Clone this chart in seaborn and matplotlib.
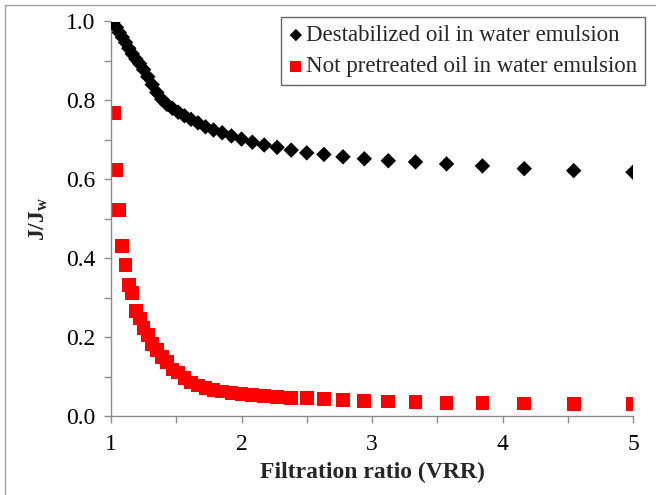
import matplotlib
matplotlib.use("Agg")
import matplotlib.pyplot as plt
import seaborn as sns
import pandas as pd
from matplotlib.ticker import MultipleLocator, FormatStrFormatter
from matplotlib.patches import Rectangle

vrr = [1.0204, 1.0417, 1.0638, 1.0870, 1.1111, 1.1364, 1.1628, 1.1905, 1.2195, 1.2500,
       1.2821, 1.3158, 1.3514, 1.3889, 1.4286, 1.4706, 1.5152, 1.5625, 1.6129, 1.6667,
       1.7241, 1.7857, 1.8519, 1.9231, 2.0000, 2.0833, 2.1739, 2.2727, 2.3810, 2.5000,
       2.6316, 2.7778, 2.9412, 3.1250, 3.3333, 3.5714, 3.8462, 4.1667, 4.5455, 5.0000]

destabilized = [1.000, 0.985, 0.972, 0.960, 0.947, 0.932, 0.918, 0.905, 0.893, 0.878,
                0.860, 0.840, 0.820, 0.803, 0.790, 0.780, 0.770, 0.761, 0.752, 0.743,
                0.733, 0.725, 0.718, 0.710, 0.702, 0.694, 0.687, 0.681, 0.674, 0.667,
                0.663, 0.657, 0.652, 0.647, 0.644, 0.639, 0.634, 0.627, 0.622, 0.618]

not_pretreated = [0.769, 0.624, 0.523, 0.431, 0.383, 0.333, 0.311, 0.267, 0.247, 0.224,
                  0.205, 0.183, 0.168, 0.150, 0.137, 0.118, 0.110, 0.097, 0.085, 0.077,
                  0.071, 0.066, 0.062, 0.059, 0.056, 0.054, 0.051, 0.049, 0.046, 0.045,
                  0.043, 0.040, 0.038, 0.037, 0.036, 0.033, 0.033, 0.032, 0.030, 0.030]

label_a = "Destabilized oil in water emulsion"
label_b = "Not pretreated oil in water emulsion"

sns.set_style("white")
plt.rcParams["font.family"] = ["Liberation Serif", "DejaVu Serif"]
plt.rcParams["mathtext.fontset"] = "custom"
plt.rcParams["mathtext.rm"] = "Liberation Serif"
plt.rcParams["mathtext.bf"] = "Liberation Serif:bold"
plt.rcParams["mathtext.it"] = "Liberation Serif:italic"

df = pd.DataFrame({"vrr": vrr, "a": destabilized, "b": not_pretreated})

fig = plt.figure(figsize=(6.56, 4.95), dpi=100)
ax = fig.add_axes([111 / 656, 1 - 416 / 495, (633 - 111) / 656, (416 - 21.5) / 495])

sns.scatterplot(data=df, x="vrr", y="b", ax=ax, marker="s", s=98, color="#ff0000",
                edgecolor="none", linewidth=0, label=label_b, zorder=2)
sns.scatterplot(data=df, x="vrr", y="a", ax=ax, marker="D", s=62, color="black",
                edgecolor="none", linewidth=0, label=label_a, zorder=3)

ax.set_xlim(1, 5)
ax.set_ylim(0, 1.0)
ax.xaxis.set_major_locator(MultipleLocator(1))
ax.xaxis.set_minor_locator(MultipleLocator(0.5))
ax.yaxis.set_major_locator(MultipleLocator(0.2))
ax.yaxis.set_minor_locator(MultipleLocator(0.1))
ax.yaxis.set_major_formatter(FormatStrFormatter("%.1f"))

for side in ["top", "right"]:
    ax.spines[side].set_visible(False)
for side in ["left", "bottom"]:
    ax.spines[side].set_color("#8c8c8c")
    ax.spines[side].set_linewidth(1.0)
    ax.spines[side].set_clip_on(False)

ax.tick_params(axis="both", which="both", direction="out", color="#8c8c8c", width=1.0,
               labelsize=17, labelcolor="black", bottom=True, left=True)
ax.tick_params(axis="both", which="both", length=5)
ax.tick_params(axis="x", which="major", pad=8)
ax.tick_params(axis="y", which="major", pad=6)

ax.set_xlabel("Filtration ratio (VRR)", fontsize=17, fontweight="bold", labelpad=5)
ax.set_ylabel(r"$\mathbf{J/J_w}$", fontsize=17, labelpad=12)

handles, labels = ax.get_legend_handles_labels()
order = [labels.index(label_a), labels.index(label_b)]
leg = ax.legend([handles[i] for i in order], [labels[i] for i in order],
                loc="upper left", bbox_to_anchor=(281 / 656, 1 - 17 / 495),
                bbox_transform=fig.transFigure, frameon=True, fancybox=False,
                fontsize=16.5, handlelength=0.6, handletextpad=0.15, borderpad=0.35,
                labelspacing=0.45, borderaxespad=0, markerscale=0.8)
leg.get_frame().set_edgecolor("#404040")
leg.get_frame().set_linewidth(1.0)

fig.patches.append(Rectangle((5 / 656, -0.1), 1.2, 1.1 - 5 / 495, transform=fig.transFigure,
                             fill=False, edgecolor="#a0a0a0", linewidth=1.0))

fig.savefig("out.png", dpi=100)
